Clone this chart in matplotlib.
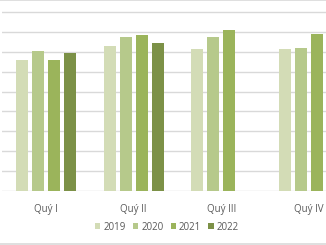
import numpy as np
import matplotlib.pyplot as plt
from matplotlib.lines import Line2D

quarters = ["Quý I", "Quý II", "Quý III", "Quý IV"]
years = ["2019", "2020", "2021", "2022"]
v2019 = [6.58, 7.29, 7.12, 7.12]
v2020 = [7.05, 7.72, 7.72, 7.17]
v2021 = [6.60, 7.84, 8.08, 7.90]
v2022 = [6.95, 7.45, np.nan, np.nan]
colors = ["#d3dcb6", "#b6c98b", "#9bb45b", "#7c9147"]

fig = plt.figure(figsize=(3.26, 2.45), dpi=100)
ax = fig.add_axes([2 / 326, 54 / 245, 351 / 326, 191 / 245])

x = np.arange(len(quarters))
pitch = 0.1825
width = 0.137
series = [v2019, v2020, v2021, v2022]
for i, (vals, yr) in enumerate(zip(series, years)):
    ax.bar(x + (i - 1.5) * pitch, vals, width, color=colors[i], label=yr, zorder=3)

ax.set_xlim(-0.5, 3.5)
ax.set_ylim(0, 9.6)
ax.set_yticks(range(0, 10))
ax.yaxis.grid(True, color="#d9d9d9", linewidth=1.0, zorder=0)
ax.set_yticklabels([])
ax.tick_params(axis="y", length=0)
ax.set_xticks(x)
ax.set_xticklabels(quarters, fontsize=7, color="#595959", family="Open Sans")
ax.tick_params(axis="x", length=0, pad=9)
for s in ax.spines.values():
    s.set_visible(False)

fig.legend(loc="center", bbox_to_anchor=(0.512, 0.072), ncol=4, frameon=False,
           prop={"family": "Open Sans", "size": 7}, labelcolor="#595959",
           handlelength=0.55, handleheight=0.55, handletextpad=0.3,
           columnspacing=0.75, borderaxespad=0)

fig.add_artist(Line2D([0, 1], [0.999, 0.999], color="#d9d9d9", linewidth=1.2))
fig.add_artist(Line2D([0, 1], [1.5 / 245, 1.5 / 245], color="#d9d9d9", linewidth=1.2))

fig.savefig("out.png", dpi=100)
